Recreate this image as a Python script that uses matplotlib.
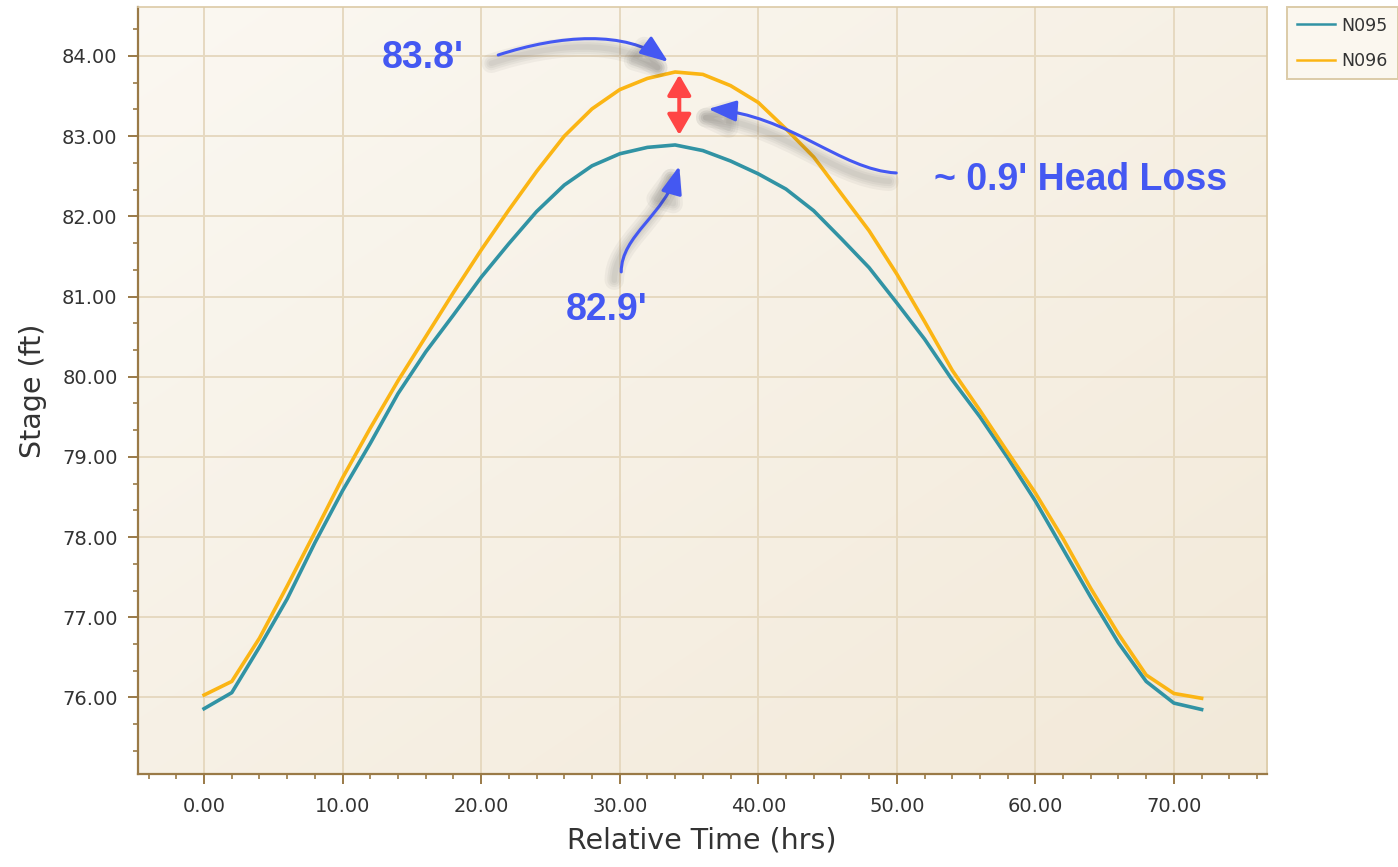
import numpy as np
import matplotlib
matplotlib.use("Agg")
import matplotlib.pyplot as plt
import matplotlib.patheffects as pe
from matplotlib.path import Path
from matplotlib.patches import FancyArrowPatch
from matplotlib.ticker import MultipleLocator, FormatStrFormatter

# ---- data -------------------------------------------------------------
hours = [0, 2, 4, 6, 8, 10, 12, 14, 16, 18, 20, 22, 24, 26, 28, 30, 32, 34,
         36, 38, 40, 42, 44, 46, 48, 50, 52, 54, 56, 58, 60, 62, 64, 66, 68,
         70, 72]

n095 = [75.86, 76.06, 76.63, 77.23, 77.93, 78.58, 79.17, 79.79, 80.31, 80.77,
        81.24, 81.66, 82.06, 82.39, 82.63, 82.78, 82.86, 82.89, 82.82, 82.69,
        82.53, 82.34, 82.07, 81.72, 81.36, 80.92, 80.47, 79.96, 79.50, 78.99,
        78.45, 77.85, 77.25, 76.68, 76.20, 75.93, 75.85]

n096 = [76.03, 76.20, 76.74, 77.39, 78.06, 78.74, 79.36, 79.95, 80.50, 81.05,
        81.58, 82.08, 82.56, 83.00, 83.34, 83.58, 83.72, 83.80, 83.77, 83.63,
        83.42, 83.09, 82.74, 82.28, 81.82, 81.28, 80.69, 80.08, 79.58, 79.06,
        78.55, 77.98, 77.36, 76.79, 76.28, 76.05, 75.99]

series_names = ["N095", "N096"]
x_label = "Relative Time (hrs)"
y_label = "Stage (ft)"
peak_label_upper = "83.8'"
peak_label_lower = "82.9'"
head_loss_label = "~ 0.9' Head Loss"

# ---- style ------------------------------------------------------------
teal = "#3193A4"
gold = "#FBB514"
blue = "#4458F2"
red = "#FF4545"
axis_brown = "#9A7A47"
grid_tan = "#E6D9C0"
text_dark = "#333333"

fig = plt.figure(figsize=(13.98, 8.67), dpi=100)
fig.patch.set_facecolor("white")
ax = fig.add_axes([0.0985, 0.1073, 0.8076, 0.8843])

# soft diagonal background shading of the plot area
gx, gy = np.meshgrid(np.linspace(0, 1, 256), np.linspace(0, 1, 256))
w = ((gx + gy) / 2.0)[..., None]
c_light = np.array([0.984, 0.972, 0.947])
c_dark = np.array([0.950, 0.914, 0.850])
shade = c_light * (1 - w) + c_dark * w
ax.imshow(shade, extent=[0, 1, 0, 1], transform=ax.transAxes, aspect="auto",
          interpolation="bilinear", zorder=0)

# ---- series -----------------------------------------------------------
ax.plot(hours, n095, color=teal, lw=2.6, label=series_names[0], zorder=3,
        solid_joinstyle="round")
ax.plot(hours, n096, color=gold, lw=2.6, label=series_names[1], zorder=3,
        solid_joinstyle="round")

ax.set_xlim(-4.79, 76.7)
ax.set_ylim(75.046, 84.607)

# ---- axes styling -----------------------------------------------------
ax.xaxis.set_major_locator(MultipleLocator(10))
ax.xaxis.set_minor_locator(MultipleLocator(2))
ax.yaxis.set_major_locator(MultipleLocator(1))
ax.yaxis.set_minor_locator(MultipleLocator(1 / 3))
ax.xaxis.set_major_formatter(FormatStrFormatter("%.2f"))
ax.yaxis.set_major_formatter(FormatStrFormatter("%.2f"))

ax.grid(True, which="major", color=grid_tan, lw=1.4)
ax.set_axisbelow(True)
for gl in ax.get_xgridlines() + ax.get_ygridlines():
    gl.set_zorder(1)

for side in ("left", "bottom"):
    ax.spines[side].set_color(axis_brown)
    ax.spines[side].set_linewidth(1.6)
for side in ("top", "right"):
    ax.spines[side].set_color("#DCCAA6")
    ax.spines[side].set_linewidth(1.2)

ax.tick_params(which="major", direction="out", length=7.5, width=1.4,
               color=axis_brown, labelsize=14, labelcolor=text_dark, pad=7)
ax.tick_params(which="minor", direction="out", length=3.8, width=1.2,
               color=axis_brown)
ax.tick_params(axis="x", which="major", pad=9)

ax.set_xlabel(x_label, fontsize=20.5, color=text_dark, labelpad=8)
ax.set_ylabel(y_label, fontsize=20.5, color=text_dark, labelpad=11)

# ---- annotations ------------------------------------------------------
shadow_fx = [pe.SimpleLineShadow(offset=(-5, -6), shadow_color="#3a3a3a",
                                 alpha=0.05, linewidth=lw)
             for lw in (14, 10, 7, 4)] + [pe.Normal()]


def curved_arrow(points):
    path = Path(points, [Path.MOVETO, Path.CURVE4, Path.CURVE4, Path.CURVE4])
    arrow = FancyArrowPatch(path=path,
                            arrowstyle="-|>,head_length=0.85,head_width=0.32",
                            mutation_scale=20, color=blue, lw=2.2,
                            transform=ax.transData, zorder=6,
                            path_effects=shadow_fx)
    ax.add_patch(arrow)


curved_arrow([(21.23, 84.012), (25.70, 84.262), (30.40, 84.324), (33.50, 83.925)])
curved_arrow([(30.11, 81.307), (30.11, 81.768), (33.29, 82.017), (34.30, 82.628)])
curved_arrow([(49.96, 82.541), (45.92, 82.579), (42.31, 83.264), (36.39, 83.339)])

ax.annotate("", xy=(34.3, 83.015), xytext=(34.3, 83.765),
            arrowprops=dict(arrowstyle="<|-|>,head_length=0.62,head_width=0.36",
                            color=red, lw=2.9, shrinkA=0, shrinkB=0,
                            mutation_scale=20), zorder=7)

label_font = dict(fontsize=27, fontweight="bold", color=blue,
                  family="Liberation Sans", zorder=8)
ax.text(12.85, 83.85, peak_label_upper, ha="left", va="baseline", **label_font)
ax.text(26.14, 80.708, peak_label_lower, ha="left", va="baseline", **label_font)
ax.text(52.7, 82.329, head_loss_label, ha="left", va="baseline", **label_font)

# ---- legend -----------------------------------------------------------
handles, labels = ax.get_legend_handles_labels()
leg = fig.legend(handles, labels, loc="upper left",
                 bbox_to_anchor=(1287 / 1398, 1 - 7 / 867),
                 bbox_transform=fig.transFigure, frameon=True, fancybox=False,
                 fontsize=12.5, handlelength=2.2, handletextpad=0.4,
                 borderpad=0.55, labelspacing=1.0, borderaxespad=0,
                 edgecolor="#DCCBA8", facecolor="#FBF7EF", framealpha=1)
leg.get_frame().set_linewidth(1.4)
for line in leg.get_lines():
    line.set_linewidth(1.8)
for t in leg.get_texts():
    t.set_color(text_dark)

fig.savefig("out.png", dpi=100)
